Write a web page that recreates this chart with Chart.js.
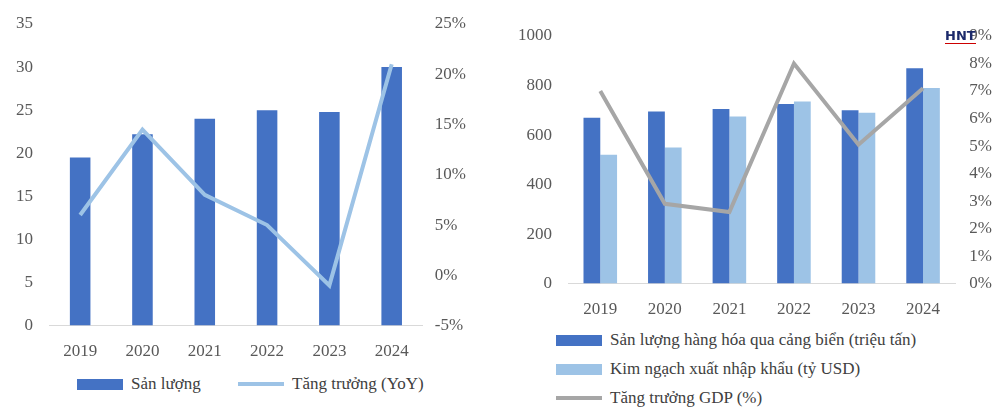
<!DOCTYPE html>
<html><head><meta charset="utf-8">
<script src="https://cdn.jsdelivr.net/npm/chart.js@4"></script>
<style>
body{margin:0;background:#fff;width:1000px;height:413px;position:relative;overflow:hidden;font-family:"Liberation Serif",serif;color:#404040}
.box{position:absolute}
.lg{position:absolute;font-size:17px;display:flex;align-items:center;white-space:nowrap}
.sw{display:inline-block;margin-right:8px}
#logo{position:absolute;left:945px;top:28px;font:bold 13px "DejaVu Sans";color:#1c2a6b;border-bottom:1px solid #c00}
</style></head><body>
<div class="box" style="left:8px;top:4px;width:462px;height:366px"><canvas id="c1"></canvas></div>
<div class="box" style="left:510px;top:4px;width:488px;height:324px"><canvas id="c2"></canvas></div>
<div class="lg" style="left:77px;top:374px"><span class="sw" style="width:46px;height:11px;background:#4472c4"></span>Sản lượng</div>
<div class="lg" style="left:238px;top:374px"><span class="sw" style="width:46px;height:4px;background:#9dc3e6"></span>Tăng trưởng (YoY)</div>
<div class="lg" style="left:556px;top:330px"><span class="sw" style="width:46px;height:11px;background:#4472c4"></span>Sản lượng hàng hóa qua cảng biển (triệu tấn)</div>
<div class="lg" style="left:556px;top:359px"><span class="sw" style="width:46px;height:11px;background:#9dc3e6"></span>Kim ngạch xuất nhập khẩu (tỷ USD)</div>
<div class="lg" style="left:556px;top:388px"><span class="sw" style="width:46px;height:4px;background:#a6a6a6"></span>Tăng trưởng GDP (%)</div>
<div id="logo">HNT</div>
<script>
const years=['2019','2020','2021','2022','2023','2024'];
const sanLuong=[19.5,22.2,24.0,25.0,24.8,30.0];
const yoy=[6.0,14.5,8.0,5.0,-1.0,21.0];
const hangHoa=[670,695,705,725,700,870];
const kimNgach=[520,550,675,735,690,790];
const gdp=[7.0,2.9,2.6,8.0,5.05,7.1];

const tickFont={family:'Liberation Serif',size:17};
const tc='#595959';
Chart.defaults.animation=false;

new Chart(document.getElementById('c1'),{
  data:{labels:years,datasets:[
    {type:'line',data:yoy,yAxisID:'y1',borderColor:'#9dc3e6',borderWidth:4,pointRadius:0,tension:0},
    {type:'bar',data:sanLuong,yAxisID:'y',backgroundColor:'#4472c4',barPercentage:0.33,categoryPercentage:1}
  ]},
  options:{responsive:true,maintainAspectRatio:false,plugins:{legend:{display:false},tooltip:{enabled:false}},
    layout:{padding:{top:20}},
    scales:{
      x:{grid:{display:false},border:{color:'#d9d9d9'},ticks:{color:tc,font:tickFont,padding:8}},
      y:{min:0,max:35,ticks:{stepSize:5,color:tc,font:tickFont,padding:8},grid:{display:false},border:{display:false}},
      y1:{position:'right',min:-5,max:25,ticks:{stepSize:5,color:tc,font:tickFont,padding:4,callback:v=>v+'%'},grid:{display:false},border:{display:false}}
    }}
});

new Chart(document.getElementById('c2'),{
  data:{labels:years,datasets:[
    {type:'line',data:gdp,yAxisID:'y1',borderColor:'#a6a6a6',borderWidth:4,pointRadius:0,tension:0},
    {type:'bar',data:hangHoa,yAxisID:'y',backgroundColor:'#4472c4',barPercentage:1,categoryPercentage:0.52},
    {type:'bar',data:kimNgach,yAxisID:'y',backgroundColor:'#9dc3e6',barPercentage:1,categoryPercentage:0.52}
  ]},
  options:{responsive:true,maintainAspectRatio:false,plugins:{legend:{display:false},tooltip:{enabled:false}},
    layout:{padding:{top:32}},
    scales:{
      x:{grid:{display:false},border:{color:'#d9d9d9'},ticks:{color:tc,font:tickFont,padding:8}},
      y:{min:0,max:1000,ticks:{stepSize:200,color:tc,font:tickFont,padding:8,callback:v=>String(v)},grid:{display:false},border:{display:false}},
      y1:{position:'right',min:0,max:9,ticks:{stepSize:1,color:tc,font:tickFont,padding:6,callback:v=>v+'%'},grid:{display:false},border:{display:false}}
    }}
});
</script>
</body></html>
